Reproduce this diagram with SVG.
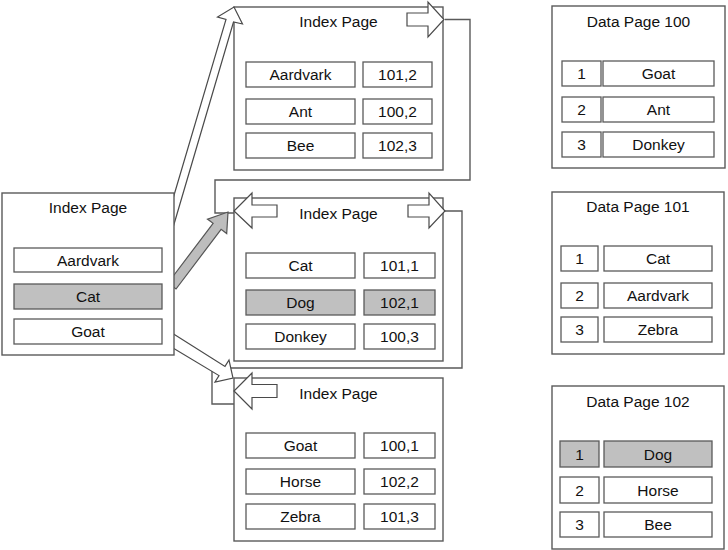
<svg xmlns="http://www.w3.org/2000/svg" width="728" height="550" viewBox="0 0 728 550">
<style>
.page{fill:#fff;stroke:#5a5a5a;stroke-width:1.4}
.cell{fill:#fff;stroke:#5a5a5a;stroke-width:1.3}
.hl{fill:#c0c0c0}
.arr{fill:#fff;stroke:#4a4a4a;stroke-width:1.2;stroke-linejoin:miter}
.garr{fill:#bdbdbd;stroke:#555;stroke-width:1.2}
.conn{fill:none;stroke:#5a5a5a;stroke-width:1.4}
text{font-family:"Liberation Sans",Arial,sans-serif;font-size:15.5px;fill:#111;text-anchor:middle}
</style>
<rect width="728" height="550" fill="#fff"/>
<g id="connectors">
<path class="conn" d="M445,19.5 H470 V180 H215 V213 H234"/>
<path class="conn" d="M445,211 H462 V368 H212 V404 H234"/>
</g>
<g id="index-top">
<rect class="page" x="234" y="7" width="209" height="163"/>
<text x="338.5" y="27">Index Page</text>
<polygon class="arr" points="407,13 428,13 428,2 444,19.5 428,37 428,26 407,26"/>
<rect class="cell" x="246" y="62" width="109" height="25"/><text x="300.5" y="80">Aardvark</text>
<rect class="cell" x="363" y="62" width="69" height="25"/><text x="397.5" y="80">101,2</text>
<rect class="cell" x="246" y="99" width="109" height="25"/><text x="300.5" y="117">Ant</text>
<rect class="cell" x="363" y="99" width="69" height="25"/><text x="397.5" y="117">100,2</text>
<rect class="cell" x="246" y="133" width="109" height="25"/><text x="300.5" y="151">Bee</text>
<rect class="cell" x="363" y="133" width="69" height="25"/><text x="397.5" y="151">102,3</text>
</g>
<g id="index-middle">
<rect class="page" x="234" y="198" width="209" height="163"/>
<text x="338.5" y="219">Index Page</text>
<polygon class="arr" points="277,205 252,205 252,193 234,211 252,228 252,217 277,217"/>
<polygon class="arr" points="408,205 429,205 429,193 445,211 429,228 429,217 408,217"/>
<rect class="cell" x="246" y="253" width="109" height="25"/><text x="300.5" y="271">Cat</text>
<rect class="cell" x="364" y="253" width="71" height="25"/><text x="399.5" y="271">101,1</text>
<rect class="cell hl" x="246" y="290" width="109" height="25"/><text x="300.5" y="308">Dog</text>
<rect class="cell hl" x="364" y="290" width="71" height="25"/><text x="399.5" y="308">102,1</text>
<rect class="cell" x="246" y="324" width="109" height="25"/><text x="300.5" y="342">Donkey</text>
<rect class="cell" x="364" y="324" width="71" height="25"/><text x="399.5" y="342">100,3</text>
</g>
<g id="index-bottom">
<rect class="page" x="234" y="378" width="209" height="163"/>
<text x="338.5" y="399">Index Page</text>
<polygon class="arr" points="277,384.5 252,384.5 252,373 234,391 252,409 252,397.5 277,397.5"/>
<rect class="cell" x="246" y="433" width="109" height="25"/><text x="300.5" y="451">Goat</text>
<rect class="cell" x="364" y="433" width="71" height="25"/><text x="399.5" y="451">100,1</text>
<rect class="cell" x="246" y="469" width="109" height="25"/><text x="300.5" y="487">Horse</text>
<rect class="cell" x="364" y="469" width="71" height="25"/><text x="399.5" y="487">102,2</text>
<rect class="cell" x="246" y="504" width="109" height="25"/><text x="300.5" y="522">Zebra</text>
<rect class="cell" x="364" y="504" width="71" height="25"/><text x="399.5" y="522">101,3</text>
</g>
<g id="block-arrows">
<polygon class="arr" points="172,202 226,19.5 217.5,17 234,7 242.5,24 233.5,22 172,231"/>
<polygon class="garr" points="168,283 213.1,223.3 207.5,219.1 228,212 226.7,233.5 221.1,229.3 176,289"/>
<polygon class="arr" points="172,333 225,366.4 229,360 233,378 215,382 219,375.6 168,345"/>
</g>
<g id="index-root">
<rect class="page" x="2" y="193" width="172" height="162"/>
<text x="88" y="213">Index Page</text>
<rect class="cell" x="14" y="248" width="148" height="24"/><text x="88" y="265.5">Aardvark</text>
<rect class="cell hl" x="14" y="284" width="148" height="25"/><text x="88" y="302">Cat</text>
<rect class="cell" x="14" y="319" width="148" height="25"/><text x="88" y="337">Goat</text>
</g>
<g id="data-100">
<rect class="page" x="552" y="6" width="173" height="162"/>
<text x="638.5" y="27">Data Page 100</text>
<rect class="cell" x="562" y="61" width="39" height="25"/><text x="581.5" y="79">1</text>
<rect class="cell" x="603" y="61" width="111" height="25"/><text x="658.5" y="79">Goat</text>
<rect class="cell" x="562" y="97" width="39" height="25"/><text x="581.5" y="115">2</text>
<rect class="cell" x="603" y="97" width="111" height="25"/><text x="658.5" y="115">Ant</text>
<rect class="cell" x="562" y="132" width="39" height="25"/><text x="581.5" y="150">3</text>
<rect class="cell" x="603" y="132" width="111" height="25"/><text x="658.5" y="150">Donkey</text>
</g>
<g id="data-101">
<rect class="page" x="552" y="192" width="172" height="162"/>
<text x="638" y="212">Data Page 101</text>
<rect class="cell" x="561" y="246" width="37" height="25"/><text x="579.5" y="264">1</text>
<rect class="cell" x="604" y="246" width="108" height="25"/><text x="658" y="264">Cat</text>
<rect class="cell" x="561" y="283" width="37" height="25"/><text x="579.5" y="301">2</text>
<rect class="cell" x="604" y="283" width="108" height="25"/><text x="658" y="301">Aardvark</text>
<rect class="cell" x="561" y="317" width="37" height="25"/><text x="579.5" y="335">3</text>
<rect class="cell" x="604" y="317" width="108" height="25"/><text x="658" y="335">Zebra</text>
</g>
<g id="data-102">
<rect class="page" x="552" y="386" width="172" height="163"/>
<text x="638" y="407">Data Page 102</text>
<rect class="cell hl" x="560" y="441" width="39" height="26"/><text x="579.5" y="459.5">1</text>
<rect class="cell hl" x="604" y="441" width="108" height="26"/><text x="658" y="459.5">Dog</text>
<rect class="cell" x="560" y="477" width="39" height="26"/><text x="579.5" y="495.5">2</text>
<rect class="cell" x="604" y="477" width="108" height="26"/><text x="658" y="495.5">Horse</text>
<rect class="cell" x="560" y="512" width="39" height="25"/><text x="579.5" y="530">3</text>
<rect class="cell" x="604" y="512" width="108" height="25"/><text x="658" y="530">Bee</text>
</g>
</svg>
